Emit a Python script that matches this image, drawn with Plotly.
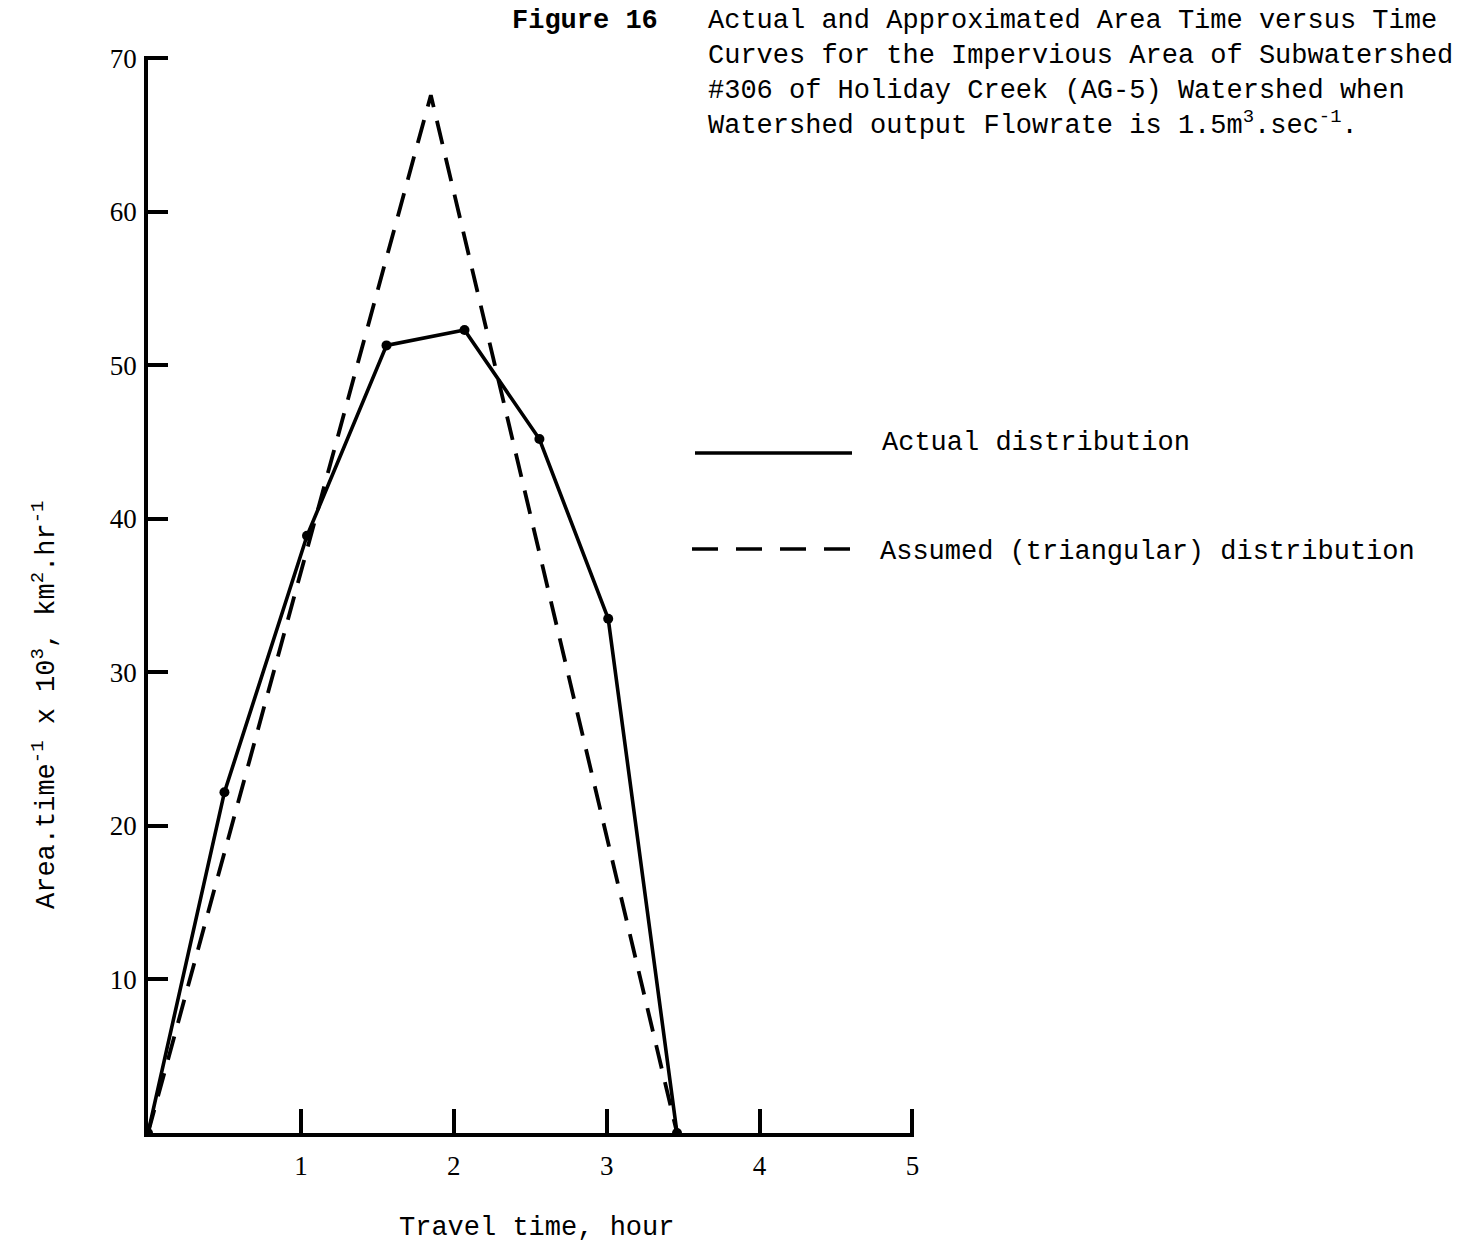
import plotly.graph_objects as go

# Travel time (hour) and area-time values (x 10^3 km^2/hr)
actual_time = [0.0, 0.50, 1.04, 1.56, 2.07, 2.56, 3.01, 3.46]
actual_value = [0.0, 22.2, 38.9, 51.3, 52.3, 45.2, 33.5, 0.0]

assumed_time = [0.0, 1.85, 3.46]
assumed_value = [0.0, 67.6, 0.0]

x_ticks = [1, 2, 3, 4, 5]
y_ticks = [10, 20, 30, 40, 50, 60, 70]

MONO = "Liberation Mono, DejaVu Sans Mono, monospace"
SERIF = "Liberation Serif, DejaVu Serif, serif"
DASH = "24px,14px"

fig = go.Figure()

fig.add_trace(go.Scatter(
    x=assumed_time, y=assumed_value, mode="lines",
    line=dict(color="black", width=3.8, dash=DASH),
    showlegend=False, hoverinfo="skip",
))
fig.add_trace(go.Scatter(
    x=actual_time, y=actual_value, mode="lines+markers",
    line=dict(color="black", width=3.6),
    marker=dict(color="black", size=10),
    showlegend=False,
))

# Legend samples drawn beside the plot
fig.add_shape(type="line", xref="paper", yref="paper",
              x0=(695 - 148) / 766, x1=(852 - 148) / 766,
              y0=(1133 - 453) / 1077, y1=(1133 - 453) / 1077,
              line=dict(color="black", width=3.6))
fig.add_shape(type="line", xref="paper", yref="paper",
              x0=(692 - 148) / 766, x1=(850 - 148) / 766,
              y0=(1133 - 549) / 1077, y1=(1133 - 549) / 1077,
              line=dict(color="black", width=3.6, dash="26px,18px"))

annotations = [
    dict(text="Actual distribution", x=(880 - 148) / 766, y=(1133 - 443) / 1077,
         xanchor="left", yanchor="middle"),
    dict(text="Assumed (triangular) distribution", x=(878 - 148) / 766,
         y=(1133 - 552) / 1077, xanchor="left", yanchor="middle"),
    dict(text="Travel time, hour", x=(536 - 148) / 766, y=(1133 - 1228) / 1077,
         xanchor="center", yanchor="middle"),
    dict(text="Area.time<sup>-1</sup> x 10<sup>3</sup>, km<sup>2</sup>.hr<sup>-1</sup>",
         x=(45 - 148) / 766, y=(1133 - 705) / 1077, textangle=-90,
         xanchor="center", yanchor="middle"),
    dict(text="<b>Figure 16</b>", x=(510 - 148) / 766, y=(1133 - 21) / 1077,
         xanchor="left", yanchor="middle"),
    dict(text="Actual and Approximated Area Time versus Time<br>"
              "Curves for the Impervious Area of Subwatershed<br>"
              "#306 of Holiday Creek (AG-5) Watershed when<br>"
              "Watershed output Flowrate is 1.5m<sup>3</sup>.sec<sup>-1</sup>.",
         x=(706 - 148) / 766, y=(1133 - 4) / 1077,
         xanchor="left", yanchor="top", align="left"),
]
for a in annotations:
    a.update(xref="paper", yref="paper", showarrow=False,
             font=dict(family=MONO, size=27, color="black"))
    fig.add_annotation(**a)

fig.update_xaxes(
    range=[0, 5.01], tickvals=x_ticks, ticktext=[str(v) for v in x_ticks],
    showline=True, linecolor="black", linewidth=3.5,
    ticks="inside", ticklen=24, tickwidth=3.5, tickcolor="black",
    showgrid=False, zeroline=False, ticklabelstandoff=6,
    tickfont=dict(family=SERIF, size=27, color="black"),
)
fig.update_yaxes(
    range=[0, 70.15], tickvals=y_ticks, ticktext=[str(v) for v in y_ticks],
    showline=True, linecolor="black", linewidth=3.5,
    ticks="inside", ticklen=20, tickwidth=3.5, tickcolor="black",
    showgrid=False, zeroline=False, ticklabelstandoff=2,
    tickfont=dict(family=SERIF, size=27, color="black"),
)

fig.update_layout(
    width=1475, height=1247,
    margin=dict(l=148, r=561, t=56, b=114),
    paper_bgcolor="white", plot_bgcolor="white",
    showlegend=False,
)

fig.write_html("out.html")
